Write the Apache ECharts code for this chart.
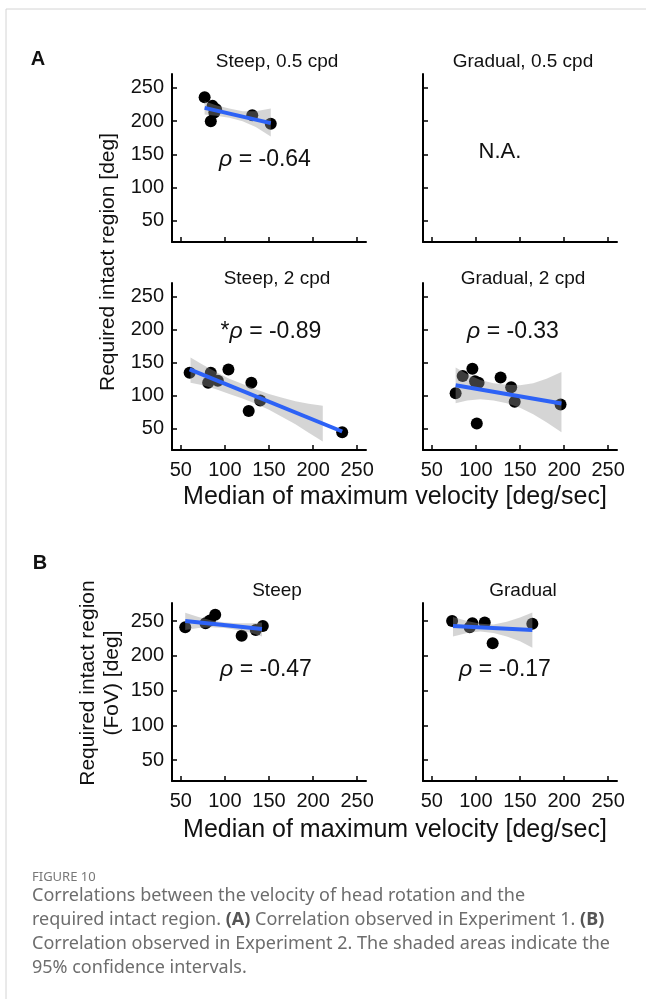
<!DOCTYPE html>
<html>
<head>
<meta charset="utf-8">
<script src="https://cdn.jsdelivr.net/npm/echarts@6/dist/echarts.min.js"></script>
<style>
  html, body { margin: 0; padding: 0; background: #fff; }
  #chart { width: 646px; height: 999px; }
</style>
</head>
<body>
<div id="chart"></div>
<script>
  var xTicks = [50, 100, 150, 200, 250];
  var yTicks = [50, 100, 150, 200, 250];

  // A - Steep, 0.5 cpd
  var s05X = [77, 86, 90, 88, 84, 131, 152];
  var s05Y = [236, 223, 218, 213, 200, 209, 196];
  var s05Fit = [[77, 220], [152, 197]];
  var s05BandX = [77, 90, 105, 120, 135, 152];
  var s05BandLo = [210, 208, 205, 200, 191, 177];
  var s05BandHi = [230, 224, 219, 215, 215, 219];

  // A - Steep, 2 cpd
  var s2X = [60, 84, 81, 92, 104, 130, 140, 127, 233];
  var s2Y = [135, 135, 120, 123, 140, 120, 93, 77, 45];
  var s2Fit = [[60, 140], [233, 46]];
  var s2BandX = [61, 75, 90, 105, 120, 135, 150, 165, 180, 195, 211];
  var s2BandLo = [120, 116, 110, 103, 96, 88, 79, 68, 57, 44, 31];
  var s2BandHi = [158, 147, 136, 126, 118, 110, 103, 97, 92, 88, 85];

  // A - Gradual, 2 cpd
  var g2X = [77, 85, 96, 103, 99, 128, 140, 144, 101, 196];
  var g2Y = [104, 130, 141, 120, 122, 128, 113, 91, 58, 87];
  var g2Fit = [[77, 116], [197, 88.5]];
  var g2BandX = [77, 90, 105, 120, 135, 150, 165, 180, 197];
  var g2BandLo = [89, 93, 95, 93, 89, 82, 72, 60, 45];
  var g2BandHi = [143, 133, 124, 119, 117, 116, 119, 126, 136];

  // B - Steep
  var bsX = [55, 78, 83, 89, 119, 135, 143];
  var bsY = [241, 247, 251, 259, 229, 237, 243];
  var bsFit = [[55, 250], [142, 238.5]];
  var bsBandX = [55, 70, 85, 100, 115, 130, 142];
  var bsBandLo = [237, 240, 241, 240, 237, 233, 228];
  var bsBandHi = [262, 256, 251, 248, 247, 247, 248];

  // B - Gradual
  var bgX = [73, 93, 96, 110, 119, 164];
  var bgY = [250, 241, 247, 248, 218, 246];
  var bgFit = [[74, 243], [164, 237]];
  var bgBandX = [74, 90, 105, 120, 135, 150, 164];
  var bgBandLo = [228, 233, 235, 233, 228, 221, 211.5];
  var bgBandHi = [256, 250, 246, 245, 249, 255, 262.5];

  var FONT = 'Liberation Sans';
  var chart = echarts.init(document.getElementById('chart'));

  var panels = [
    {left: 172, top: 74, height: 168, yMin: 18, yMax: 271, xLabels: false,
      x: s05X, y: s05Y, fit: s05Fit, bx: s05BandX, lo: s05BandLo, hi: s05BandHi},
    {left: 423, top: 74, height: 168, yMin: 18, yMax: 271, xLabels: false},
    {left: 172, top: 283, height: 167, yMin: 18, yMax: 271, xLabels: true,
      x: s2X, y: s2Y, fit: s2Fit, bx: s2BandX, lo: s2BandLo, hi: s2BandHi},
    {left: 423, top: 283, height: 167, yMin: 18, yMax: 271, xLabels: true,
      x: g2X, y: g2Y, fit: g2Fit, bx: g2BandX, lo: g2BandLo, hi: g2BandHi},
    {left: 172, top: 603, height: 178, yMin: 20, yMax: 276, xLabels: true,
      x: bsX, y: bsY, fit: bsFit, bx: bsBandX, lo: bsBandLo, hi: bsBandHi},
    {left: 423, top: 603, height: 178, yMin: 20, yMax: 276, xLabels: true,
      x: bgX, y: bgY, fit: bgFit, bx: bgBandX, lo: bgBandLo, hi: bgBandHi}
  ];

  var grids = [], xAxes = [], yAxes = [], series = [];
  var axisLine = {show: true, lineStyle: {color: '#000', width: 2}};
  var axisTick = {show: true, inside: true, length: 5, lineStyle: {color: '#000', width: 1.5}};

  panels.forEach(function (p, i) {
    grids.push({left: p.left, top: p.top, width: 194, height: p.height});
    xAxes.push({
      gridIndex: i, type: 'value', min: 40, max: 260,
      axisLine: axisLine,
      axisTick: Object.assign({customValues: xTicks}, axisTick),
      axisLabel: {show: p.xLabels, customValues: xTicks, margin: 10,
        fontFamily: FONT, fontSize: 20, color: '#111'},
      splitLine: {show: false}
    });
    yAxes.push({
      gridIndex: i, type: 'value', min: p.yMin, max: p.yMax,
      axisLine: axisLine,
      axisTick: Object.assign({customValues: yTicks}, axisTick),
      axisLabel: {show: i % 2 === 0, customValues: yTicks, margin: 8,
        fontFamily: FONT, fontSize: 20, color: '#111'},
      splitLine: {show: false}
    });
    if (!p.x) return;
    series.push({
      type: 'scatter', xAxisIndex: i, yAxisIndex: i, z: 1,
      symbolSize: 12, itemStyle: {color: '#000', opacity: 1},
      data: p.x.map(function (v, k) { return [v, p.y[k]]; })
    });
    // confidence band, drawn over the points
    series.push({
      type: 'custom', xAxisIndex: i, yAxisIndex: i, z: 2,
      data: [[p.bx[0], p.lo[0]]],
      renderItem: function (params, api) {
        var pts = [];
        p.bx.forEach(function (v, k) { pts.push(api.coord([v, p.hi[k]])); });
        for (var k = p.bx.length - 1; k >= 0; k--) pts.push(api.coord([p.bx[k], p.lo[k]]));
        return {type: 'polygon', shape: {points: pts}, style: {fill: 'rgba(150,150,150,0.4)'}};
      }
    });
    series.push({
      type: 'line', xAxisIndex: i, yAxisIndex: i, z: 3,
      symbol: 'none', lineStyle: {color: '#2d62f6', width: 4},
      data: p.fit
    });
  });

  function txt(x, y, s, size, extra) {
    return {
      type: 'text', x: x, y: y,
      style: Object.assign({text: s, fontFamily: FONT, fontSize: size, fill: '#111',
        align: 'center', verticalAlign: 'middle'}, extra || {})
    };
  }
  var rhoRich = {r: {fontFamily: FONT, fontSize: 23, fontStyle: 'italic', fill: '#111'}};

  var graphics = [
    {type: 'line', shape: {x1: 6, y1: 9, x2: 646, y2: 9}, style: {stroke: '#d4d4d4', lineWidth: 1}},
    {type: 'line', shape: {x1: 6, y1: 9, x2: 6, y2: 999}, style: {stroke: '#d4d4d4', lineWidth: 1}},
    txt(38, 59, 'A', 20, {fontWeight: 'bold'}),
    txt(40, 563, 'B', 20, {fontWeight: 'bold'}),
    txt(277, 62, 'Steep, 0.5 cpd', 19),
    txt(523, 62, 'Gradual, 0.5 cpd', 19),
    txt(277, 279, 'Steep, 2 cpd', 19),
    txt(523, 279, 'Gradual, 2 cpd', 19),
    txt(277, 591, 'Steep', 19),
    txt(523, 591, 'Gradual', 19),
    txt(265, 160, '{r|ρ} = -0.64', 23, {rich: rhoRich}),
    txt(500, 152, 'N.A.', 22),
    txt(271, 332, '*{r|ρ} = -0.89', 23, {rich: rhoRich}),
    txt(513, 332, '{r|ρ} = -0.33', 23, {rich: rhoRich}),
    txt(266, 670, '{r|ρ} = -0.47', 23, {rich: rhoRich}),
    txt(505, 670, '{r|ρ} = -0.17', 23, {rich: rhoRich}),
    txt(395, 497, 'Median of maximum velocity [deg/sec]', 25),
    txt(395, 830, 'Median of maximum velocity [deg/sec]', 25),
    {type: 'text', x: 108, y: 262, rotation: Math.PI / 2,
      style: {text: 'Required intact region [deg]', fontFamily: FONT, fontSize: 21, fill: '#111',
        align: 'center', verticalAlign: 'middle'}},
    {type: 'text', x: 100, y: 683, rotation: Math.PI / 2,
      style: {text: 'Required intact region\n(FoV) [deg]', fontFamily: FONT, fontSize: 21, fill: '#111',
        align: 'center', verticalAlign: 'middle', lineHeight: 24}},
    {type: 'text', x: 32, y: 877,
      style: {text: 'FIGURE 10', fontFamily: 'Noto Sans', fontSize: 13, fill: '#777',
        verticalAlign: 'middle'}},
    {type: 'text', x: 32, y: 884,
      style: {
        text: 'Correlations between the velocity of head rotation and the\n' +
          'required intact region. {b|(A)} Correlation observed in Experiment 1. {b|(B)}\n' +
          'Correlation observed in Experiment 2. The shaded areas indicate the\n' +
          '95% confidence intervals.',
        fontFamily: 'Noto Sans', fontSize: 18, fill: '#6d6d6d', lineHeight: 24,
        verticalAlign: 'top',
        rich: {b: {fontFamily: 'Noto Sans', fontSize: 18, fontWeight: 'bold', fill: '#555', lineHeight: 24}}
      }}
  ];

  chart.setOption({
    animation: false,
    backgroundColor: '#fff',
    grid: grids,
    xAxis: xAxes,
    yAxis: yAxes,
    series: series,
    graphic: graphics
  });
</script>
</body>
</html>
